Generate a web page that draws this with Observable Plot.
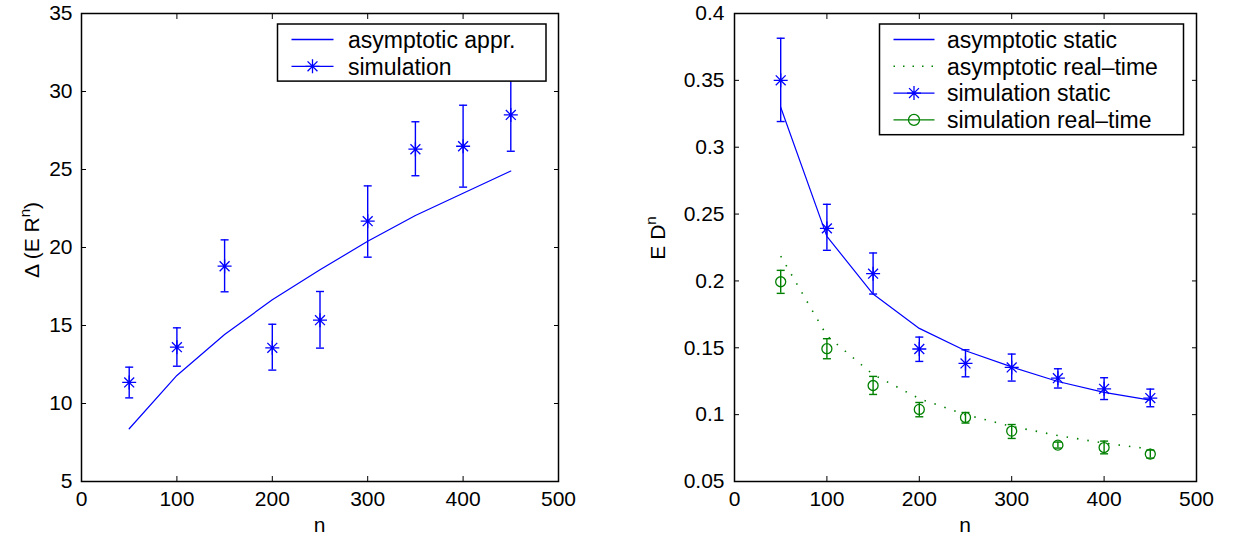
<!DOCTYPE html>
<html><head><meta charset="utf-8">
<script src="https://cdn.jsdelivr.net/npm/d3@7"></script>
<script src="https://cdn.jsdelivr.net/npm/@observablehq/plot@0.6"></script>
<style>
body{margin:0;background:#fff;}
#wrap{position:relative;width:1239px;height:537px;overflow:hidden;background:#fff;}
#wrap svg{position:absolute;top:0;}
</style></head><body><div id="wrap"></div>
<script>
// ---------- data ----------
const nVals = [50,100,150,200,250,300,350,400,450];
// left panel
const asymAppr = [8.38,11.8,14.42,16.65,18.57,20.4,22.05,23.48,24.9];
const simMean  = [11.35,13.61,18.8,13.57,15.34,21.69,26.3,26.49,28.5];
const simLow   = [10.36,12.39,17.16,12.14,13.55,19.38,24.6,23.87,26.17];
const simHigh  = [12.33,14.85,20.49,15.08,17.18,23.95,28.06,29.12,30.83];
// right panel
const asymStatic   = [0.3299,0.2333,0.1902,0.1645,0.1478,0.1357,0.1248,0.1166,0.1109];
const asymRealTime = [0.2186,0.159,0.130,0.112,0.100,0.0912,0.0844,0.0787,0.0743];
const simStatic     = [0.350,0.2393,0.2054,0.1491,0.1383,0.1353,0.1273,0.1193,0.1124];
const simStaticLow  = [0.3192,0.2229,0.1902,0.1398,0.1283,0.1251,0.1199,0.1113,0.1059];
const simStaticHigh = [0.3815,0.2573,0.2209,0.158,0.1485,0.1453,0.1343,0.1276,0.1191];
const simRT     = [0.1994,0.1493,0.1218,0.1039,0.0979,0.0877,0.0772,0.0754,0.0705];
const simRTLow  = [0.1907,0.1418,0.1151,0.0984,0.0937,0.0822,0.0750,0.0707,0.0675];
const simRTHigh = [0.2079,0.1568,0.1286,0.1091,0.1016,0.0926,0.0795,0.0802,0.0735];
// ticks
const xTicks = [0,100,200,300,400,500];
const yTicksLeft = [5,10,15,20,25,30,35];
const yTicksRight = [0.05,0.1,0.15,0.2,0.25,0.3,0.35,0.4];
// labels
const legendLeft = ["asymptotic appr.","simulation"];
const legendRight = ["asymptotic static","asymptotic real\u2013time","simulation static","simulation real\u2013time"];

// ---------- styling ----------
const BLUE = "#0000ff", GREEN = "#008000";
const FONT = "'Liberation Sans', Arial, Helvetica, sans-serif";
const FS = 21;      // tick + axis labels
const LFS = 23;     // legend

const asteriskSym = {draw(ctx, size){
  const r = Math.sqrt(size/Math.PI), d = r*Math.SQRT1_2;
  ctx.moveTo(-r,0); ctx.lineTo(r,0); ctx.moveTo(0,-r); ctx.lineTo(0,r);
  ctx.moveTo(-d,-d); ctx.lineTo(d,d); ctx.moveTo(-d,d); ctx.lineTo(d,-d);
}};
const capSym = {draw(ctx, size){
  const r = Math.sqrt(size/Math.PI);
  ctx.moveTo(-r,0); ctx.lineTo(r,0);
}};

const leftData = nVals.map((n,i)=>({n, asym:asymAppr[i], mean:simMean[i], lo:simLow[i], hi:simHigh[i]}));
const rightData = nVals.map((n,i)=>({n, as:asymStatic[i], ar:asymRealTime[i],
  sm:simStatic[i], slo:simStaticLow[i], shi:simStaticHigh[i],
  rm:simRT[i], rlo:simRTLow[i], rhi:simRTHigh[i]}));

function frameAxes(yTicks, yFmt, padY){
  return [
    Plot.frame({stroke:"black", strokeWidth:1.5}),
    Plot.axisX(xTicks, {anchor:"bottom", tickSize:-5, tickPadding:15, label:null, stroke:"black"}),
    Plot.axisX(xTicks, {anchor:"top", tickSize:-5, label:null, fill:"none", stroke:"black"}),
    Plot.axisY(yTicks, {anchor:"left", tickSize:-5, tickPadding:padY, label:null, tickFormat:yFmt, stroke:"black"}),
    Plot.axisY(yTicks, {anchor:"right", tickSize:-5, label:null, fill:"none", stroke:"black"})
  ];
}

const common = {height:537, marginTop:13, marginBottom:56,
  style:{fontFamily:FONT, fontSize:FS+"px", color:"black", background:"white", overflow:"visible"},
  x:{domain:[0,500]}};

const left = Plot.plot({...common, width:620, marginLeft:81, marginRight:62,
  y:{domain:[5,35]},
  marks:[
    Plot.line(leftData,{x:"n", y:"asym", stroke:BLUE, strokeWidth:1.2}),
    Plot.ruleX(leftData,{x:"n", y1:"lo", y2:"hi", stroke:BLUE, strokeWidth:1.4}),
    Plot.dot(leftData,{x:"n", y:"lo", symbol:capSym, r:4, stroke:BLUE, strokeWidth:1.4}),
    Plot.dot(leftData,{x:"n", y:"hi", symbol:capSym, r:4, stroke:BLUE, strokeWidth:1.4}),
    Plot.dot(leftData,{x:"n", y:"mean", symbol:asteriskSym, r:7, stroke:BLUE, strokeWidth:1.3}),
    ...frameAxes(yTicksLeft, d=>String(d), 14)
  ]});
left.style.left = "0px";

const right = Plot.plot({...common, width:619, marginLeft:114, marginRight:43,
  y:{domain:[0.05,0.4]},
  marks:[
    Plot.line(rightData,{x:"n", y:"as", stroke:BLUE, strokeWidth:1.2}),
    Plot.line(rightData,{x:"n", y:"ar", stroke:GREEN, strokeWidth:1.6, strokeDasharray:"1.5,9", strokeLinecap:"butt"}),
    Plot.ruleX(rightData,{x:"n", y1:"slo", y2:"shi", stroke:BLUE, strokeWidth:1.4}),
    Plot.dot(rightData,{x:"n", y:"slo", symbol:capSym, r:4, stroke:BLUE, strokeWidth:1.4}),
    Plot.dot(rightData,{x:"n", y:"shi", symbol:capSym, r:4, stroke:BLUE, strokeWidth:1.4}),
    Plot.dot(rightData,{x:"n", y:"sm", symbol:asteriskSym, r:7, stroke:BLUE, strokeWidth:1.3}),
    Plot.ruleX(rightData,{x:"n", y1:"rlo", y2:"rhi", stroke:GREEN, strokeWidth:1.4}),
    Plot.dot(rightData,{x:"n", y:"rlo", symbol:capSym, r:4, stroke:GREEN, strokeWidth:1.4}),
    Plot.dot(rightData,{x:"n", y:"rhi", symbol:capSym, r:4, stroke:GREEN, strokeWidth:1.4}),
    Plot.dot(rightData,{x:"n", y:"rm", symbol:"circle", r:5, fill:"none", stroke:GREEN, strokeWidth:1.3}),
    ...frameAxes(yTicksRight, d=>String(+d.toFixed(2)), 15)
  ]});
right.style.left = "620px";

const wrap = document.getElementById("wrap");
wrap.appendChild(left);
wrap.appendChild(right);

// ---------- axis labels ----------
function addLabels(svg, cx, yLabelX, yLabelY, parts){
  const s = d3.select(svg);
  s.append("text").attr("x", cx).attr("y", 532).attr("text-anchor","middle")
    .attr("font-family", FONT).attr("font-size", FS).attr("fill","black").text("n");
  const t = s.append("text").attr("transform", `translate(${yLabelX},${yLabelY}) rotate(-90)`)
    .attr("text-anchor","middle").attr("font-family", FONT).attr("font-size", FS).attr("fill","black");
  t.append("tspan").text(parts[0]);
  t.append("tspan").attr("dy", -9).attr("font-size", FS*0.72).text("n");
  if (parts[1]) t.append("tspan").attr("dy", 9).text(parts[1]);
}
addLabels(left, 319.5, 39, 240, ["\u0394 (E R", ")"]);
addLabels(right, 345, 45, 238, ["E D", ""]);

// ---------- legends ----------
function legend(svg, x0, y0, w, rows, lx1, lx2, tx){
  const s = d3.select(svg);
  const g = s.append("g").attr("text-anchor","start");
  g.append("rect").attr("x", x0).attr("y", y0).attr("width", w).attr("height", rows.length*26.8+3.5)
    .attr("fill","white").attr("stroke","black").attr("stroke-width",1.5);
  rows.forEach((r,i)=>{
    const y = y0 + 15.5 + i*26.8;
    if (r.line) g.append("line").attr("x1",lx1).attr("x2",lx2).attr("y1",y).attr("y2",y)
      .style("stroke",r.color).attr("stroke-width", r.dash?1.6:1.3).attr("stroke-dasharray", r.dash||null);
    const cx = (lx1+lx2)/2;
    if (r.marker === "star") {
      const p = d3.path(); asteriskSym.draw(p, 49*Math.PI);
      g.append("path").attr("d", p.toString()).attr("transform",`translate(${cx},${y})`)
        .attr("fill","none").style("stroke",r.color).attr("stroke-width",1.3);
    } else if (r.marker === "circle") {
      g.append("circle").attr("cx",cx).attr("cy",y).attr("r",5.5).attr("fill","none")
        .style("stroke",r.color).attr("stroke-width",1.3);
    }
    g.append("text").attr("x",tx).attr("y",y).attr("dy","0.36em").attr("text-anchor","start")
      .attr("font-family",FONT).attr("font-size",LFS).attr("fill","black").text(r.label);
  });
}
legend(left, 277.5, 24, 268.5, [
  {label:legendLeft[0], color:BLUE, line:true},
  {label:legendLeft[1], color:BLUE, line:true, marker:"star"}
], 291.5, 333.5, 348);
legend(right, 259.5, 24, 304, [
  {label:legendRight[0], color:BLUE, line:true},
  {label:legendRight[1], color:GREEN, line:true, dash:"1.5,8"},
  {label:legendRight[2], color:BLUE, line:true, marker:"star"},
  {label:legendRight[3], color:GREEN, line:true, marker:"circle"}
], 273.5, 314.5, 327);
</script>
</body></html>
